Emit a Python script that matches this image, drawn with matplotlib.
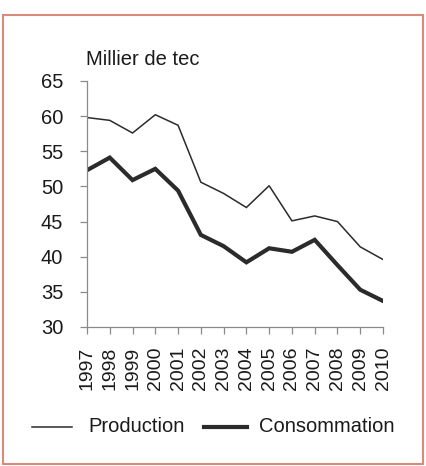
import matplotlib
matplotlib.use("Agg")
import matplotlib.pyplot as plt
from matplotlib.patches import Rectangle
from matplotlib.lines import Line2D

plt.rcParams['font.family'] = ['Liberation Sans', 'DejaVu Sans']

# Data (milliers de tec)
years = list(range(1997, 2011))
production = [59.8, 59.4, 57.6, 60.2, 58.7, 50.6, 49.0, 47.0, 50.1, 45.1, 45.8, 45.0, 41.4, 39.6]
consommation = [52.3, 54.1, 50.9, 52.5, 49.4, 43.1, 41.5, 39.2, 41.2, 40.7, 42.4, 38.8, 35.3, 33.7]
y_ticks = [30, 35, 40, 45, 50, 55, 60, 65]

line_color = '#2b2b2b'
axis_color = '#8a8a8a'
text_color = '#1a1a1a'

fig = plt.figure(figsize=(4.27, 4.66), dpi=100)
ax = fig.add_axes([0.2037, 0.2983, 0.6933, 0.5279])

ax.plot(years, production, color=line_color, lw=1.1, solid_joinstyle='miter')
ax.plot(years, consommation, color=line_color, lw=3.0, solid_joinstyle='miter')

ax.set_xlim(1997, 2010)
ax.set_ylim(30, 65)
ax.set_yticks(y_ticks)
ax.set_xticks(years)
ax.set_xticklabels([str(y) for y in years], rotation=90, fontsize=14, color=text_color)
ax.set_yticklabels([str(v) for v in y_ticks], fontsize=14.5, color=text_color)

for side in ['top', 'right']:
    ax.spines[side].set_visible(False)
for side in ['left', 'bottom']:
    ax.spines[side].set_color(axis_color)
    ax.spines[side].set_linewidth(0.9)
ax.tick_params(axis='y', length=5, width=0.9, color=axis_color, pad=12)
ax.tick_params(axis='x', length=5, width=0.9, color=axis_color, pad=9)

fig.text(86 / 427, 1 - 65 / 466, 'Millier de tec', fontsize=14.5, color=text_color,
         ha='left', va='baseline')

# legend drawn by hand to match the layout
ly = 1 - 427 / 466
fig.add_artist(Line2D([32 / 427, 72 / 427], [ly, ly], color=line_color, lw=1.1,
                      transform=fig.transFigure))
fig.add_artist(Line2D([204 / 427, 247 / 427], [ly, ly], color=line_color, lw=3.0,
                      transform=fig.transFigure))
fig.text(88 / 427, ly, 'Production', fontsize=14.5, color=text_color, ha='left', va='center')
fig.text(259 / 427, ly, 'Consommation', fontsize=14.5, color=text_color, ha='left', va='center')

# outer frame
fig.add_artist(Rectangle((3 / 427, 1 - 464 / 466), 420 / 427, 449 / 466,
                         transform=fig.transFigure, fill=False,
                         edgecolor='#d98a7a', lw=1.5))

fig.savefig('out.png', dpi=100)
